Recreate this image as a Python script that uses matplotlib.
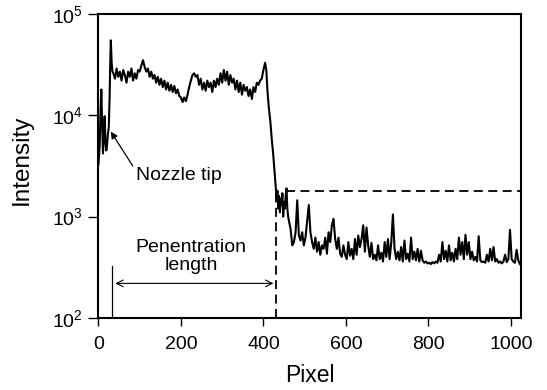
import numpy as np
import matplotlib
matplotlib.use("Agg")
import matplotlib.pyplot as plt

plt.rcParams['font.family'] = ['Liberation Sans', 'DejaVu Sans']
plt.rcParams['mathtext.default'] = 'regular'

# ---- data ----
# start (nozzle region), explicit pixel positions
start_pixel = [0, 3, 5, 7, 9, 11, 13, 15, 17, 19, 21, 23, 25, 27, 29, 30, 32, 34]
start_intensity = [3300, 5000, 11000, 18000, 8000, 4200, 6000, 9800, 5500, 4500,
                   5200, 6600, 7600, 15000, 40000, 55000, 33000, 27000]

# plateau, pixels 36..400 step 4
plateau_start, plateau_step = 36, 4
plateau_intensity = [
    26000, 23000, 29000, 24000, 27000, 22000, 28000, 25000, 21000, 27000,
    24000, 29000, 22000, 26000, 23000, 28000, 27000, 31000, 35000, 30000,
    27000, 29000, 24000, 27000, 23000, 25000, 21000, 24000, 20000, 23000,
    19000, 22000, 18000, 21000, 17500, 20000, 17000, 19500, 16500, 18000,
    15500, 15000, 13500, 15000, 13800, 16000, 19000, 22000, 25000, 26000,
    24000, 25000, 20000, 23000, 18000, 21000, 17500, 22000, 19000, 21000,
    17000, 22000, 19000, 23000, 20000, 26000, 21000, 28000, 22000, 27000,
    20000, 25000, 21000, 23000, 18000, 22000, 17000, 21000, 16000, 20000,
    17500, 19000, 15500, 18000, 14500, 19000, 17000, 21000, 20000, 22000,
    23000, 28000]

# falling edge, explicit pixel positions
fall_pixel = [404, 407, 410, 413, 417, 420, 424, 427, 430, 432, 434, 436, 438,
              440, 442, 444, 446, 448, 450, 452, 454, 456, 458, 460]
fall_intensity = [33000, 28000, 17000, 12000, 8500, 6000, 4000, 2800, 2000, 1500,
                  1800, 1200, 1600, 1100, 1500, 1300, 1700, 1000, 1400, 1200,
                  1600, 1900, 1200, 1000]

# tail, pixels 462.. step 4
tail_start, tail_step = 462, 4
tail_intensity = [
    900, 750, 520, 560, 700, 1450, 650, 580, 700, 520,
    620, 900, 1300, 700, 560, 480, 620, 450, 560, 420,
    520, 480, 620, 430, 700, 560, 820, 950, 600, 480,
    620, 430, 400, 520, 420, 380, 560, 410, 480, 380,
    600, 420, 650, 500, 600, 820, 450, 780, 520, 400,
    550, 380, 420, 370, 520, 380, 440, 360, 560, 400,
    600, 380, 550, 1050, 480, 380, 450, 370, 500, 360,
    580, 380, 430, 360, 620, 380, 450, 370, 480, 360,
    460, 370, 350, 360, 345, 350, 340, 355, 345, 360,
    350, 420, 360, 560, 380, 460, 360, 520, 370, 440,
    360, 480, 380, 620, 420, 560, 380, 660, 420, 560,
    380, 450, 370, 400, 360, 640, 370, 355, 360, 350,
    420, 360, 480, 370, 500, 360, 380, 350, 360, 345,
    360, 420, 355, 380, 740, 380, 360, 350, 470, 370,
    340]

threshold_level = 1780
tip_pixel = 34
end_pixel = 431
xticks = [0, 200, 400, 600, 800, 1000]
yticks = [1e2, 1e3, 1e4, 1e5]
ytick_labels = ['$10^{2}$', '$10^{3}$', '$10^{4}$', '$10^{5}$']

# ---- assemble ----
plateau_pixel = plateau_start + plateau_step * np.arange(len(plateau_intensity))
tail_pixel = tail_start + tail_step * np.arange(len(tail_intensity))
pixel = np.concatenate([start_pixel, plateau_pixel, fall_pixel, tail_pixel])
intensity = np.concatenate([start_intensity, plateau_intensity, fall_intensity, tail_intensity])

W, H = 547, 390
fig = plt.figure(figsize=(W / 100, H / 100), dpi=100)
ax = fig.add_axes([0.180, 0.185, 0.772, 0.779])
ax.plot(pixel, intensity, color='black', lw=1.5)
ax.set_yscale('log')
ax.set_xlim(0, 1024)
ax.set_ylim(1e2, 1e5)
ax.set_xticks(xticks)
ax.set_xticklabels([str(t) for t in xticks])
ax.set_yticks(yticks)
ax.set_yticklabels(ytick_labels)
ax.minorticks_off()
ax.tick_params(axis='x', direction='out', length=6, width=1.0, pad=7, labelsize=14)
ax.tick_params(axis='y', direction='out', length=7, width=1.0, pad=4, labelsize=14)
for s in ax.spines.values():
    s.set_linewidth(1.5)

fig.text(21.5 / W, 1 - 160 / H, 'Intensity', rotation=90, ha='center', va='center',
         fontsize=17.5)
fig.text(310 / W, 1 - 376 / H, 'Pixel', ha='center', va='center', fontsize=16.5)

# dashed guide lines
ax.plot([455, 1024], [threshold_level, threshold_level], color='black', lw=1.3,
        ls=(0, (5, 3)))
ax.plot([end_pixel, end_pixel], [100, threshold_level], color='black', lw=1.3,
        ls=(0, (5, 3)))
# tip marker line
ax.plot([tip_pixel, tip_pixel], [100, 327], color='black', lw=0.9)

# penetration arrow
ax.annotate('', xy=(tip_pixel, 219), xytext=(end_pixel, 219),
            arrowprops=dict(arrowstyle='<->', color='black', lw=0.8,
                            mutation_scale=12))
ax.text(224, 405, 'Penentration\nlength', ha='center', va='center',
        fontsize=14, linespacing=1.05)

# nozzle tip annotation
ax.annotate('Nozzle tip', xy=(30, 6900), xytext=(90, 2550),
            fontsize=14, ha='left', va='center',
            arrowprops=dict(arrowstyle='-|>', color='black', lw=0.9,
                            mutation_scale=10, shrinkA=0, shrinkB=0,
                            relpos=(0, 0.8)))

fig.savefig('out.png', dpi=100)
